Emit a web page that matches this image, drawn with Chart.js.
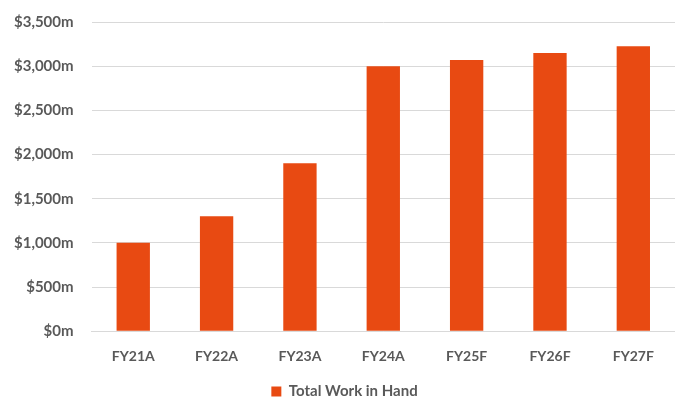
<!DOCTYPE html>
<html>
<head>
<meta charset="utf-8">
<script src="https://cdn.jsdelivr.net/npm/chart.js@4/dist/chart.umd.min.js"></script>
<style>
  html, body { margin: 0; padding: 0; background: #fff; }
  #wrap { width: 675px; height: 400px; }
</style>
</head>
<body>
<div id="wrap"><canvas id="c"></canvas></div>
<script>
// Total work in hand by financial year ($m)
const categories = ['FY21A', 'FY22A', 'FY23A', 'FY24A', 'FY25F', 'FY26F', 'FY27F'];
const workInHand = [1000, 1300, 1900, 3000, 3070, 3150, 3225];
const seriesName = 'Total Work in Hand';

const labelColor = '#595959';
const barColor = '#E84A12';
const fontFamily = 'Lato, "Open Sans", sans-serif';

new Chart(document.getElementById('c'), {
  type: 'bar',
  data: {
    labels: categories,
    datasets: [{
      label: seriesName,
      data: workInHand,
      backgroundColor: barColor,
      borderWidth: 0,
      barPercentage: 0.4,
      categoryPercentage: 1.0
    }]
  },
  options: {
    responsive: true,
    maintainAspectRatio: false,
    animation: false,
    layout: { padding: { left: 14, right: 0, top: 22, bottom: -9 } },
    plugins: {
      tooltip: { enabled: false },
      legend: {
        position: 'bottom',
        labels: {
          color: labelColor,
          font: { family: fontFamily, size: 15, weight: 'bold' },
          boxWidth: 10,
          boxHeight: 10,
          padding: 10
        }
      }
    },
    scales: {
      x: {
        grid: { display: false },
        border: { display: true, color: '#d9d9d9', width: 1 },
        ticks: {
          color: labelColor,
          font: { family: fontFamily, size: 14, weight: 'bold' },
          padding: 9
        }
      },
      y: {
        min: 0,
        max: 3500,
        border: { display: false },
        // gap between the labels and the plot comes from an invisible tick mark
        grid: { color: '#d9d9d9', lineWidth: 1, drawTicks: true, tickLength: 18, tickColor: 'rgba(0,0,0,0)' },
        ticks: {
          stepSize: 500,
          color: labelColor,
          font: { family: fontFamily, size: 15, weight: 'bold' },
          padding: 0,
          callback: v => '$' + v.toLocaleString('en-US') + 'm'
        }
      }
    }
  }
});
</script>
</body>
</html>
